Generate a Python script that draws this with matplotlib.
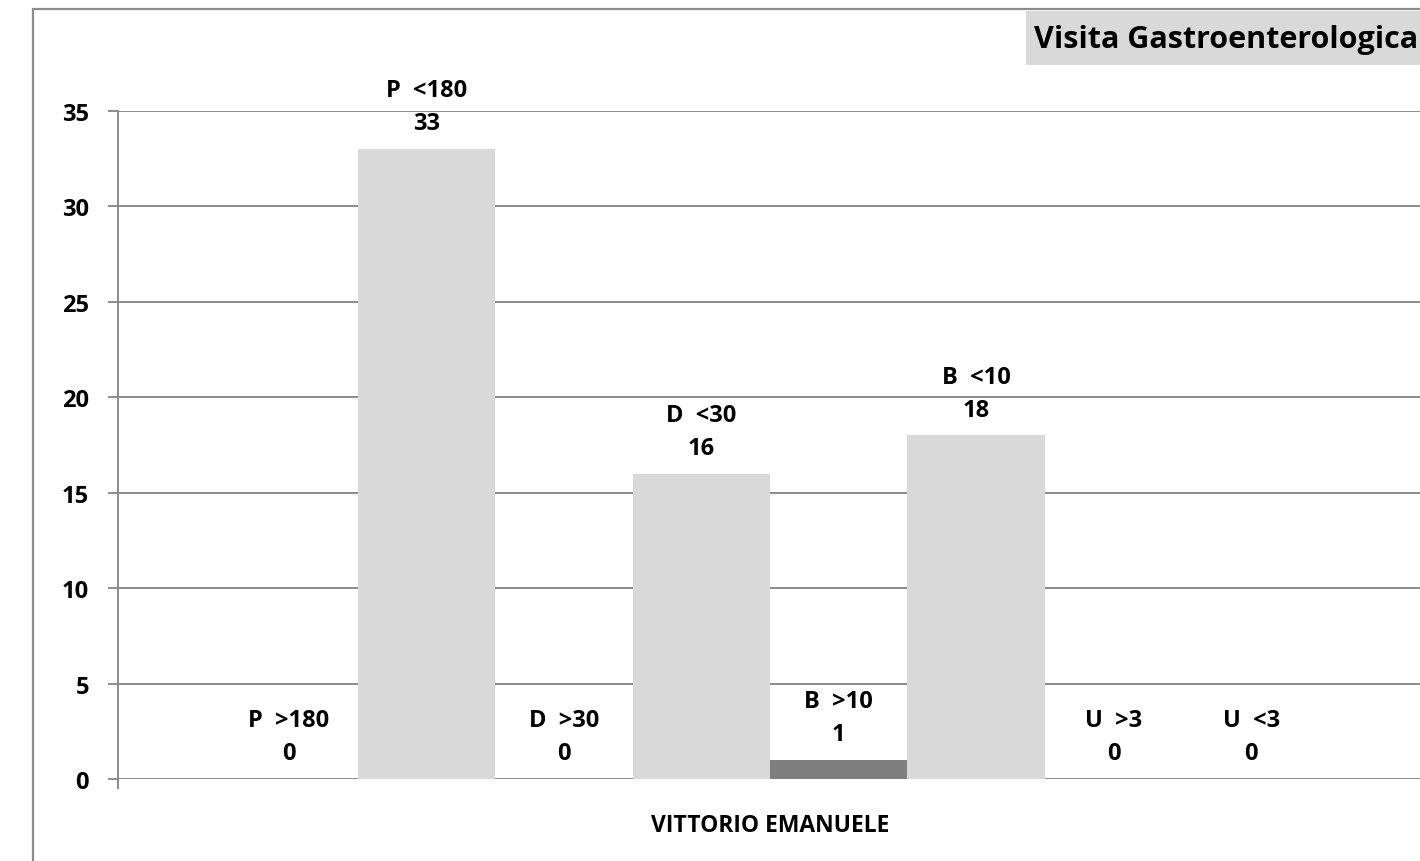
import matplotlib.pyplot as plt
from matplotlib.patches import Rectangle

# data
labels = ["P  >180", "P  <180", "D  >30", "D  <30", "B  >10", "B  <10", "U  >3", "U  <3"]
values = [0, 33, 0, 16, 1, 18, 0, 0]
colors = ["#d9d9d9", "#d9d9d9", "#d9d9d9", "#d9d9d9", "#7f7f7f", "#d9d9d9", "#d9d9d9", "#d9d9d9"]
yticks = [0, 5, 10, 15, 20, 25, 30, 35]
title = "Visita Gastroenterologica"
group = "VITTORIO EMANUELE"

plt.rcParams['font.family'] = ['Open Sans', 'DejaVu Sans']
plt.rcParams['font.weight'] = 'bold'

W, H = 1420, 862
fig = plt.figure(figsize=(W / 100, H / 100), dpi=100)
grid_col = "#8c8c8c"

# outer chart frame (runs off right and bottom)
fig.patches.append(Rectangle((33 / W, -0.1), 1.2, (H - 10) / H + 0.1, transform=fig.transFigure,
                             fill=False, edgecolor=grid_col, linewidth=1.6))
# title box
fig.patches.append(Rectangle((1026 / W, (H - 66) / H), 0.3, 54 / H, transform=fig.transFigure,
                             facecolor="#d9d9d9", edgecolor="none"))
fig.text(1034 / W, (H - 40) / H, title, fontsize=22, fontweight='bold', va='center', ha='left')

ax = fig.add_axes([118 / W, (H - 780) / H, 1304 / W, 668 / H])
xpos = list(range(len(values)))
ax.bar(xpos, values, width=1.0, color=colors, zorder=2)
ax.set_xlim(-1.242, 8.242)
ax.set_ylim(0, 35)
ax.set_yticks(yticks)
ax.yaxis.grid(True, color=grid_col, linewidth=1.4, zorder=1)
ax.set_axisbelow(True)
for s in ["top", "right", "bottom"]:
    ax.spines[s].set_visible(False)
ax.spines["left"].set_color(grid_col)
ax.spines["left"].set_linewidth(1.4)
ax.tick_params(axis='y', length=7, width=1.4, color=grid_col, labelsize=17, pad=14)
ax.set_xticks([-1.242])
ax.set_xticklabels([""])
ax.tick_params(axis='x', length=7, width=1.4, color=grid_col)
for lab in ax.get_yticklabels():
    lab.set_fontweight('bold')

for x, v, name in zip(xpos, values, labels):
    ax.annotate(f"{name}\n{v}", (x, v), xytext=(0, 10), textcoords='offset points',
                ha='center', va='bottom', fontsize=17, fontweight='bold', linespacing=1.5)

ax.set_xlabel(group, fontsize=16.5, fontweight='bold', labelpad=14)

fig.savefig("out.png", dpi=100)
